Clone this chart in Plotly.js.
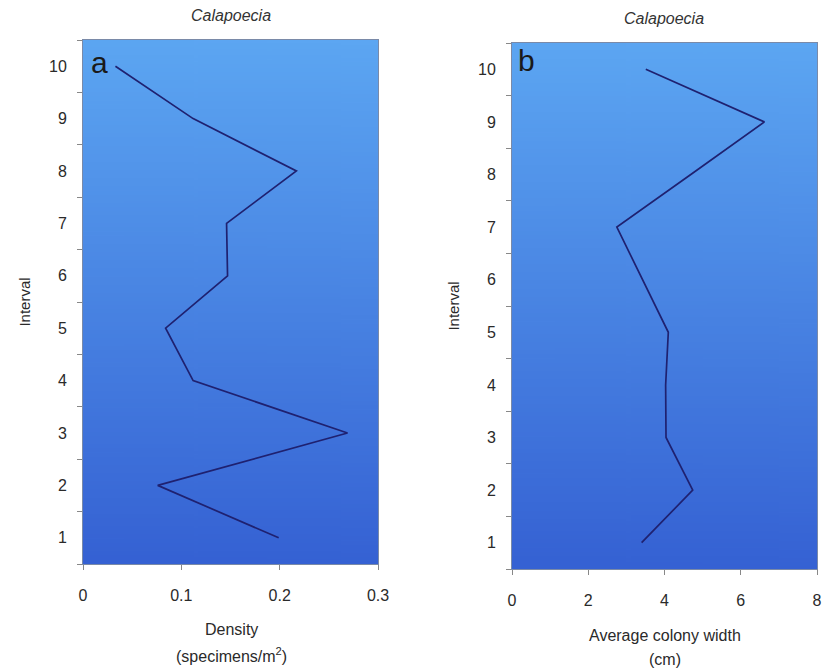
<!DOCTYPE html>
<html>
<head>
<meta charset="utf-8">
<script src="https://cdn.plot.ly/plotly-3.0.1.min.js"></script>
<style>html,body{margin:0;padding:0;background:#fff;}#chart{width:822px;height:671px;}</style>
</head>
<body>
<div id="chart"></div>
<script>
// Data
var intervals = [1, 2, 3, 4, 5, 6, 7, 8, 9, 10];
var density = [0.199, 0.076, 0.269, 0.112, 0.084, 0.147, 0.146, 0.217, 0.112, 0.033];
var colonyWidth = [3.40, 4.74, 4.04, 4.03, 4.10, 3.43, 2.75, 4.69, 6.62, 3.51];
var yTickLabels = ['1','2','3','4','5','6','7','8','9','10'];
var xTicksA = [0, 0.1, 0.2, 0.3];
var xTickLabelsA = ['0', '0.1', '0.2', '0.3'];
var xTicksB = [0, 2, 4, 6, 8];
var xTickLabelsB = ['0', '2', '4', '6', '8'];

function gradientURL() {
  var c = document.createElement('canvas');
  c.width = 4; c.height = 256;
  var g = c.getContext('2d');
  var grd = g.createLinearGradient(0, 0, 0, 256);
  grd.addColorStop(0, '#5ca6f2');
  grd.addColorStop(1, '#3561d3');
  g.fillStyle = grd;
  g.fillRect(0, 0, 4, 256);
  return c.toDataURL('image/png');
}
var grad = gradientURL();

var W = 822, H = 671;
var domA = {x: [83 / W, 378 / W], y: [(H - 564) / H, (H - 40) / H]};
var domB = {x: [512 / W, 817 / W], y: [(H - 569) / H, (H - 43) / H]};

var lineStyle = {color: '#1f2170', width: 1.7};
var fam = 'Liberation Sans, Arial, sans-serif';
var tickFont = {family: fam, color: '#2a2a2a', size: 16};
var labFont = {family: fam, color: '#2a2a2a', size: 16};

var traces = [
  {x: density, y: intervals, type: 'scatter', mode: 'lines', line: lineStyle, xaxis: 'x', yaxis: 'y', hoverinfo: 'skip'},
  {x: colonyWidth, y: intervals, type: 'scatter', mode: 'lines', line: lineStyle, xaxis: 'x2', yaxis: 'y2', hoverinfo: 'skip'}
];

function yAxis(dom, anchor) {
  return {
    domain: dom, anchor: anchor, range: [0.5, 10.5],
    tickmode: 'array', tickvals: intervals, ticktext: yTickLabels,
    ticks: 'outside', ticklen: 0, tickcolor: '#888',
    minor: {tickmode: 'linear', tick0: 0.5, dtick: 1, ticks: 'outside', ticklen: 5, tickcolor: '#888', showgrid: false},
    showgrid: false, zeroline: false,
    showline: true, linecolor: '#7a8aa8', linewidth: 1, mirror: true,
    tickfont: tickFont, ticklabelstandoff: 12,
    title: {text: 'Interval', font: {family: fam, size: 15, color: '#2a2a2a'}, standoff: 14}
  };
}

var layout = {
  width: W, height: H,
  margin: {l: 0, r: 0, t: 0, b: 0},
  paper_bgcolor: '#ffffff', plot_bgcolor: 'rgba(0,0,0,0)',
  showlegend: false,
  xaxis: {
    domain: domA.x, anchor: 'y', range: [0, 0.3],
    tickmode: 'array', tickvals: xTicksA, ticktext: xTickLabelsA,
    ticks: 'outside', ticklen: 5, tickcolor: '#888',
    showgrid: false, zeroline: false,
    showline: true, linecolor: '#7a8aa8', linewidth: 1, mirror: true,
    tickfont: tickFont, ticklabelstandoff: 12
  },
  yaxis: yAxis(domA.y, 'x'),
  xaxis2: {
    domain: domB.x, anchor: 'y2', range: [0, 8],
    tickmode: 'array', tickvals: xTicksB, ticktext: xTickLabelsB,
    ticks: 'outside', ticklen: 5, tickcolor: '#888',
    showgrid: false, zeroline: false,
    showline: true, linecolor: '#7a8aa8', linewidth: 1, mirror: true,
    tickfont: tickFont, ticklabelstandoff: 12
  },
  yaxis2: yAxis(domB.y, 'x2'),
  images: [
    {source: grad, xref: 'paper', yref: 'paper', x: domA.x[0], y: domA.y[1], sizex: domA.x[1] - domA.x[0], sizey: domA.y[1] - domA.y[0], sizing: 'stretch', layer: 'below', xanchor: 'left', yanchor: 'top'},
    {source: grad, xref: 'paper', yref: 'paper', x: domB.x[0], y: domB.y[1], sizex: domB.x[1] - domB.x[0], sizey: domB.y[1] - domB.y[0], sizing: 'stretch', layer: 'below', xanchor: 'left', yanchor: 'top'}
  ],
  annotations: [
    {text: '<i>Calapoecia</i>', xref: 'paper', yref: 'paper', x: (domA.x[0] + domA.x[1]) / 2, y: 1 - 16 / H, showarrow: false, xanchor: 'center', yanchor: 'middle', font: {family: fam, size: 16, color: '#333'}},
    {text: '<i>Calapoecia</i>', xref: 'paper', yref: 'paper', x: (domB.x[0] + domB.x[1]) / 2, y: 1 - 18 / H, showarrow: false, xanchor: 'center', yanchor: 'middle', font: {family: fam, size: 16, color: '#333'}},
    {text: 'a', xref: 'paper', yref: 'paper', x: 89 / W, y: 1 - 62 / H, showarrow: false, xanchor: 'left', yanchor: 'middle', font: {family: fam, size: 30, color: '#1a1a1a'}},
    {text: 'b', xref: 'paper', yref: 'paper', x: 516 / W, y: 1 - 60 / H, showarrow: false, xanchor: 'left', yanchor: 'middle', font: {family: fam, size: 30, color: '#1a1a1a'}},
    {text: 'Density', xref: 'paper', yref: 'paper', x: 231 / W, y: 1 - 629 / H, showarrow: false, xanchor: 'center', yanchor: 'middle', font: labFont},
    {text: '(specimens/m<sup>2</sup>)', xref: 'paper', yref: 'paper', x: 231 / W, y: 1 - 655 / H, showarrow: false, xanchor: 'center', yanchor: 'middle', font: labFont},
    {text: 'Average colony width', xref: 'paper', yref: 'paper', x: 665 / W, y: 1 - 635 / H, showarrow: false, xanchor: 'center', yanchor: 'middle', font: labFont},
    {text: '(cm)', xref: 'paper', yref: 'paper', x: 665 / W, y: 1 - 659 / H, showarrow: false, xanchor: 'center', yanchor: 'middle', font: labFont}
  ]
};

Plotly.newPlot('chart', traces, layout, {staticPlot: true, displayModeBar: false});
</script>
</body>
</html>
